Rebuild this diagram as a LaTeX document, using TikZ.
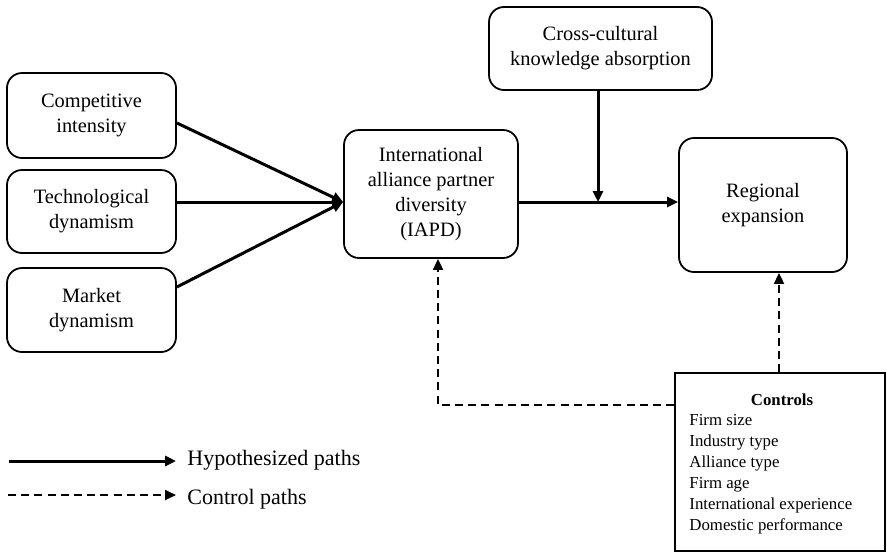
\documentclass[tikz,border=0pt]{standalone}
\usepackage{fontspec}
\setmainfont{Liberation Serif}
\usetikzlibrary{arrows.meta}
\begin{document}
\begin{tikzpicture}[x=0.5pt,y=-0.5pt,
  rbox/.style={draw,line width=0.9pt,rounded corners=7.5pt,align=center,font=\fontsize{10.2}{12.6}\selectfont,inner sep=0pt},
  hyp/.style={line width=1.5pt,-{Triangle[length=5.5pt,width=5pt]}},
  ctl/.style={line width=0.9pt,dash pattern=on 4pt off 2.6pt,-{Triangle[length=5.5pt,width=5pt]}}]
\useasboundingbox (0,0) rectangle (887,552);
\node[rbox,minimum width=84.5pt,minimum height=42.5pt] (c1) at (91.5,115.5) {Competitive\\intensity};
\node[rbox,minimum width=84.5pt,minimum height=41.5pt] (c2) at (91.5,211.5) {Technological\\dynamism};
\node[rbox,minimum width=84.5pt,minimum height=42pt] (c3) at (91.5,310) {Market\\dynamism};
\node[rbox,minimum width=87pt,minimum height=64pt] (iapd) at (431,194) {International\\alliance partner\\diversity\\(IAPD)};
\node[rbox,minimum width=111.5pt,minimum height=41.5pt] (cc) at (600.5,48.5) {Cross-cultural\\knowledge absorption};
\node[rbox,minimum width=84pt,minimum height=67pt] (re) at (763,205) {Regional\\expansion};
\node[draw,line width=0.9pt,minimum width=105pt,minimum height=89pt,inner sep=0pt] (ctrl) at (780,462) {};
\node[font=\fontsize{8.4}{10.5}\selectfont\bfseries] (ctitle) at (782,400) {Controls};
\node[font=\fontsize{8.4}{10.5}\selectfont,align=left,anchor=north west,inner sep=0pt] (clist) at (689,414) {Firm size\\Industry type\\Alliance type\\Firm age\\International experience\\Domestic performance};
\coordinate (y123) at (0,123);
\coordinate (y202) at (0,202);
\coordinate (y287) at (0,287);
\coordinate (x598) at (598,0);
\coordinate (x438) at (438,0);
\coordinate (x779) at (779,0);
\coordinate (y405) at (0,405);
\coordinate (mid) at (598,202);
\coordinate (turn) at (438,405);
\draw[hyp] (c1.east |- y123) -- (iapd.west |- y202);
\draw[hyp] (c2.east |- y202) -- (iapd.west |- y202);
\draw[hyp] (c3.east |- y287) -- (iapd.west |- y202);
\draw[hyp] (iapd.east |- y202) -- (re.west |- y202);
\draw[hyp] (cc.south -| x598) -- (mid);
\draw[ctl] (ctrl.west |- y405) -- (turn) -- (iapd.south -| x438);
\draw[ctl] (ctrl.north -| x779) -- (re.south -| x779);
% legend
\coordinate (l1a) at (9,461);
\coordinate (l1b) at (176,461);
\coordinate (l2a) at (8,495);
\coordinate (l2b) at (176,495);
\draw[hyp] (l1a) -- (l1b);
\draw[ctl] (l2a) -- (l2b);
\node[anchor=west,font=\fontsize{11}{13}\selectfont,inner sep=0pt] (t1) at (187,460) {Hypothesized paths};
\node[anchor=west,font=\fontsize{11}{13}\selectfont,inner sep=0pt] (t2) at (187,499) {Control paths};
\end{tikzpicture}
\end{document}
